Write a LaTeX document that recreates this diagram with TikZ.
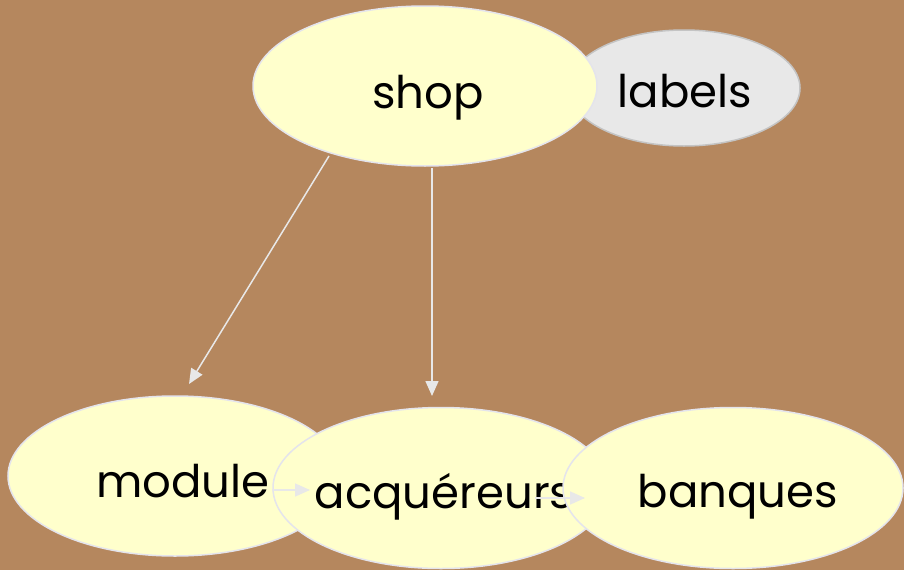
\documentclass[tikz,border=0pt]{standalone}
\usepackage{fontspec}
\setmainfont{Poppins}
\usetikzlibrary{shapes.geometric,arrows.meta,calc}
\definecolor{bgbrown}{HTML}{B5875E}
\definecolor{nodeyellow}{HTML}{FFFFCC}
\definecolor{nodegray}{HTML}{E8E8E8}
\definecolor{rimlight}{HTML}{E4E4EC}
\definecolor{rimgray}{HTML}{C4C4C4}
\definecolor{edgecol}{HTML}{E8E8E8}
\tikzset{
  ynode/.style={ellipse, fill=nodeyellow, draw=rimlight, line width=1.5pt, inner sep=0pt},
  gnode/.style={ellipse, fill=nodegray, draw=rimgray, line width=1.5pt, inner sep=0pt},
  txt/.style={inner sep=0pt, anchor=base, font=\fontsize{45}{54}\selectfont},
  edge/.style={draw=edgecol, line width=1.5pt, -{Triangle[length=15pt,width=13pt]}}
}
\begin{document}
\begin{tikzpicture}[x=1pt,y=-1pt]
\fill[bgbrown] (0,0) rectangle (904,570);
\useasboundingbox (0,0) rectangle (904,570);
% top
\node[gnode, minimum width=232pt, minimum height=116pt] (labels) at (684,88) {};
\node[txt] (labelst) at ($(labels.center)+(1,19)$) {labels};
\node[ynode, minimum width=344pt, minimum height=160pt] (shop) at (425,86) {};
\node[txt] (shopt) at ($(shop.center)+(3,22)$) {shop};
% bottom
\node[ynode, minimum width=334pt, minimum height=160pt] (module) at (175,476) {};
\node[txt] (modulet) at ($(module.center)+(8,21)$) {module};
\node[ynode, minimum width=336pt, minimum height=161pt] (acq) at (441,488) {};
\node[txt] (acqt) at ($(acq.center)+(3,20)$) {acquéreurs};
\node[ynode, minimum width=340pt, minimum height=161pt] (banques) at (733,488) {};
\node[txt] (banquest) at ($(banques.center)+(5,19)$) {banques};
% edges
\coordinate (s1) at ($(shop.center)+(-96,70)$);
\coordinate (m1) at ($(module.center)+(14,-92)$);
\coordinate (s2) at ($(shop.center)+(7,82)$);
\coordinate (a2) at ($(acq.center)+(-9,-92)$);
\coordinate (m2) at ($(module.center)+(97,14)$);
\coordinate (a3) at ($(acq.center)+(-131,2)$);
\coordinate (a4) at ($(acq.center)+(94,10)$);
\coordinate (b4) at ($(banques.center)+(-148,10)$);
\draw[edge] (s1) -- (m1);
\draw[edge] (s2) -- (a2);
\draw[edge] (m2) -- (a3);
\draw[edge] (a4) -- (b4);
\end{tikzpicture}
\end{document}
